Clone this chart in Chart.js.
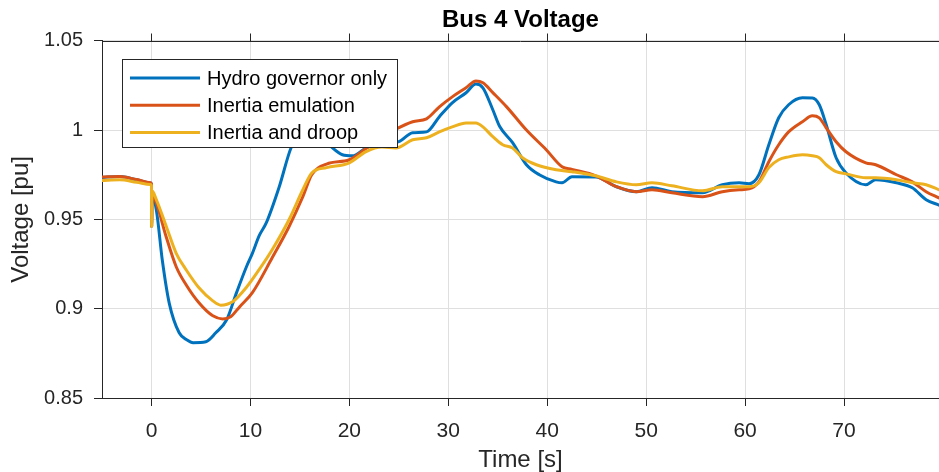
<!DOCTYPE html>
<html>
<head>
<meta charset="utf-8">
<title>Bus 4 Voltage</title>
<script src="https://cdn.jsdelivr.net/npm/chart.js@4/dist/chart.umd.min.js"></script>
<style>
  html, body { margin: 0; padding: 0; background: #ffffff; }
  #wrap { width: 939px; height: 472px; }
</style>
</head>
<body>
<div id="wrap"><canvas id="c" width="939" height="472"></canvas></div>
<script>
// ---- series data: time [s] and bus voltage [pu] ----
const hydroT = [-5, -3.2, -1.5, -0.1, 0, 0.02, 0.06, 0.5, 1.1, 1.8, 2.8, 3.6, 4.2, 5.5, 6.5,
  7.6, 8.6, 9.6, 10.2, 10.9, 11.6, 12.9, 14.1, 15, 16, 17, 17.8, 18.3, 19.3, 20.3,
  21.7, 23, 25, 26.4, 27.8, 29.1, 30.4, 31.8, 32.8, 33.5, 34.5, 35.2, 36.5, 37.9, 39.2,
  40.9, 41.5, 42.5, 44.9, 47, 49, 50.6, 52.6, 55.7, 57.7, 59.4, 60.4, 61.4, 62.4, 63.4,
  64.4, 65.8, 66.8, 67.5, 68.2, 69.2, 70.2, 72.2, 73.2, 75.3, 76.9, 78.3, 79.6];
const hydroV = [0.9735, 0.974, 0.9722, 0.9704, 0.9697, 0.946, 0.963, 0.955, 0.927, 0.903, 0.8865, 0.8825, 0.881, 0.8815, 0.8865,
  0.8938, 0.909, 0.9235, 0.931, 0.941, 0.948, 0.968, 0.990, 0.998, 1.001, 0.998, 0.993, 0.990, 0.9862, 0.9856,
  0.990, 0.992, 0.9935, 0.9985, 0.999, 1.0075, 1.0153, 1.0209, 1.0258, 1.0237, 1.0114, 1.002, 0.993, 0.9806, 0.975,
  0.971, 0.9705, 0.9739, 0.9738, 0.9683, 0.9655, 0.9677, 0.9655, 0.9649, 0.9694, 0.9705, 0.970, 0.975, 0.9918, 1.0069,
  1.0142, 1.0181, 1.018, 1.0142, 1.003, 0.9845, 0.976, 0.9694, 0.9722, 0.9705, 0.9677, 0.961, 0.958];

const inertiaT = [-5, -3.2, -1.5, -0.1, 0, 0.02, 0.06, 0.5, 1.5, 2.5, 3.5, 4.8, 6.2, 7.2, 8.0,
  8.9, 10.2, 12.2, 13.9, 15.3, 16.2, 17.7, 20, 21.5, 23, 24.7, 26.4, 27.8, 29.1, 30.4,
  31.8, 32.8, 33.5, 34.5, 35.9, 37.9, 39.9, 41.5, 42.5, 44.9, 47, 49, 50.6, 52.6, 55.7,
  57.7, 59.4, 60.4, 61.4, 62.4, 63.4, 64.4, 65.8, 66.8, 67.5, 68.2, 69.2, 70.2, 72.2, 73.2,
  75.3, 76.9, 78.3, 79.6];
const inertiaV = [0.9737, 0.974, 0.9723, 0.9705, 0.9698, 0.946, 0.964, 0.959, 0.940, 0.9235, 0.9134, 0.9033, 0.896, 0.8943, 0.8955,
  0.901, 0.909, 0.9285, 0.9459, 0.9627, 0.975, 0.981, 0.9834, 0.989, 0.995, 1.0005, 1.0047, 1.0063, 1.013, 1.0186,
  1.0237, 1.0275, 1.0265, 1.021, 1.013, 1.0, 0.989, 0.9795, 0.978, 0.9744, 0.9683, 0.9655, 0.9666, 0.9649, 0.9627,
  0.9655, 0.9666, 0.9671, 0.971, 0.9823, 0.9918, 0.999, 1.0047, 1.008, 1.0069, 1.0013, 0.9935, 0.9879, 0.9817, 0.9806,
  0.975, 0.971, 0.9655, 0.962];

const droopT = [-5, -3.2, -1.5, -0.1, 0, 0.02, 0.06, 0.5, 1.5, 2.5, 3.5, 4.8, 6.2, 7, 8.2,
  9.6, 10.9, 12.2, 13.9, 15.3, 16.2, 17.7, 20, 21.7, 23.3, 24.7, 26.4, 27.8, 29.1, 30.4,
  31.8, 32.8, 33.5, 34.5, 35.5, 36.5, 37.5, 38.9, 40.9, 42.5, 44.9, 47, 49, 50.6, 52.6,
  55.7, 57.7, 59.4, 60.4, 61.4, 62.4, 63.4, 64.4, 65.8, 66.8, 67.5, 68.2, 69.2, 70.2, 72.2,
  73.2, 75.3, 76.9, 78.3, 79.6];
const droopV = [0.9718, 0.9722, 0.9708, 0.9695, 0.969, 0.946, 0.966, 0.961, 0.946, 0.931, 0.9218, 0.9117, 0.9044, 0.902, 0.9039,
  0.912, 0.922, 0.933, 0.9498, 0.9666, 0.976, 0.979, 0.9817, 0.988, 0.9905, 0.990, 0.9946, 0.9957, 0.999, 1.0018,
  1.004, 1.004, 1.0018, 0.9963, 0.9918, 0.990, 0.9845, 0.9806, 0.9778, 0.9767, 0.9744, 0.971, 0.9694, 0.9705, 0.9688,
  0.966, 0.9683, 0.9683, 0.9683, 0.9705, 0.979, 0.9834, 0.985, 0.9862, 0.9856, 0.9845, 0.9806, 0.9767, 0.9755, 0.9733,
  0.9733, 0.9722, 0.9705, 0.9694, 0.9666];

const seriesNames = ['Hydro governor only', 'Inertia emulation', 'Inertia and droop'];
const seriesColors = ['#0072BD', '#D95319', '#EDB120'];

// ---- axis ticks ----
const xTickVals = [0, 10, 20, 30, 40, 50, 60, 70];
const yTickVals = [0.85, 0.9, 0.95, 1.0, 1.05];
const yTickLabels = ['0.85', '0.9', '0.95', '1', '1.05'];

const FONT = "'Liberation Sans', Arial, Helvetica, sans-serif";
const AXIS_COLOR = '#262626';
const GRID_COLOR = '#dfdfdf';

const toPoints = (t, v) => t.map((x, i) => ({ x: x, y: v[i] }));

// Legend drawn inside the axes, in a framed white box
const boxLegend = {
  id: 'boxLegend',
  afterDraw(chart) {
    const ctx = chart.ctx;
    const bx = 122.5, by = 59.5, bw = 275, bh = 88;
    ctx.save();
    ctx.fillStyle = '#ffffff';
    ctx.fillRect(bx, by, bw, bh);
    ctx.strokeStyle = AXIS_COLOR;
    ctx.lineWidth = 1;
    ctx.strokeRect(bx, by, bw, bh);
    ctx.font = '20px ' + FONT;
    ctx.textBaseline = 'middle';
    ctx.textAlign = 'left';
    chart.data.datasets.forEach((ds, i) => {
      const y = by + 18.5 + i * 27.3;
      ctx.strokeStyle = ds.borderColor;
      ctx.lineWidth = 3;
      ctx.beginPath();
      ctx.moveTo(130, y);
      ctx.lineTo(200, y);
      ctx.stroke();
      ctx.fillStyle = '#000000';
      ctx.fillText(ds.label, 207, y + 1);
    });
    ctx.restore();
  }
};

// Top edge of the axes box with outward tick marks
const topFrame = {
  id: 'topFrame',
  afterDraw(chart) {
    const { ctx, chartArea } = chart;
    const xs = chart.scales.x;
    ctx.save();
    ctx.strokeStyle = AXIS_COLOR;
    ctx.lineWidth = 1;
    ctx.beginPath();
    const yTop = Math.round(chartArea.top) + 0.5;
    ctx.moveTo(chartArea.left, yTop);
    ctx.lineTo(chartArea.right, yTop);
    xTickVals.forEach(v => {
      const px = Math.round(xs.getPixelForValue(v)) + 0.5;
      ctx.moveTo(px, yTop);
      ctx.lineTo(px, yTop - 8);
    });
    ctx.stroke();
    ctx.restore();
  }
};

const ds = (name, color, t, v, order) => ({
  label: name,
  data: toPoints(t, v),
  borderColor: color,
  backgroundColor: color,
  borderWidth: 3,
  pointRadius: 0,
  pointHoverRadius: 0,
  fill: false,
  cubicInterpolationMode: 'monotone',
  borderJoinStyle: 'round',
  borderCapStyle: 'round',
  order: order
});

new Chart(document.getElementById('c'), {
  type: 'line',
  data: {
    datasets: [
      ds(seriesNames[0], seriesColors[0], hydroT, hydroV, 3),
      ds(seriesNames[1], seriesColors[1], inertiaT, inertiaV, 2),
      ds(seriesNames[2], seriesColors[2], droopT, droopV, 1)
    ]
  },
  options: {
    responsive: false,
    animation: false,
    devicePixelRatio: 1,
    layout: { padding: 0 },
    events: [],
    plugins: {
      legend: { display: false },
      tooltip: { enabled: false },
      title: {
        display: true,
        text: 'Bus 4 Voltage',
        fullSize: false,
        color: '#000000',
        font: { family: FONT, size: 24, weight: 'bold', lineHeight: 1.2 },
        padding: { top: 6, bottom: 6 }
      }
    },
    scales: {
      x: {
        type: 'linear',
        min: -5,
        max: 79.6,
        afterBuildTicks: (s) => { s.ticks = xTickVals.map(v => ({ value: v })); },
        afterFit: (s) => { s.height = 74; },
        ticks: {
          color: AXIS_COLOR,
          font: { family: FONT, size: 21 },
          padding: 13,
          maxRotation: 0,
          autoSkip: false,
          callback: (v) => String(v)
        },
        grid: { color: GRID_COLOR, tickColor: AXIS_COLOR, tickLength: 8, lineWidth: 1 },
        border: { color: AXIS_COLOR, width: 1 },
        title: {
          display: true,
          text: 'Time [s]',
          color: AXIS_COLOR,
          font: { family: FONT, size: 24, lineHeight: 1.2 },
          padding: { top: 0, bottom: -3 }
        }
      },
      y: {
        type: 'linear',
        min: 0.85,
        max: 1.05,
        afterBuildTicks: (s) => { s.ticks = yTickVals.map(v => ({ value: v })); },
        afterFit: (s) => { s.width = 102; },
        ticks: {
          color: AXIS_COLOR,
          font: { family: FONT, size: 20 },
          padding: 11,
          autoSkip: false,
          callback: (v) => {
            const i = yTickVals.findIndex(t => Math.abs(t - v) < 1e-9);
            return i >= 0 ? yTickLabels[i] : '';
          }
        },
        grid: { color: GRID_COLOR, tickColor: AXIS_COLOR, tickLength: 8, lineWidth: 1 },
        border: { color: AXIS_COLOR, width: 1 },
        title: {
          display: true,
          text: 'Voltage [pu]',
          color: AXIS_COLOR,
          font: { family: FONT, size: 24, lineHeight: 1.2 },
          padding: { top: 7, bottom: 0 }
        }
      }
    }
  },
  plugins: [topFrame, boxLegend]
});
</script>
</body>
</html>
